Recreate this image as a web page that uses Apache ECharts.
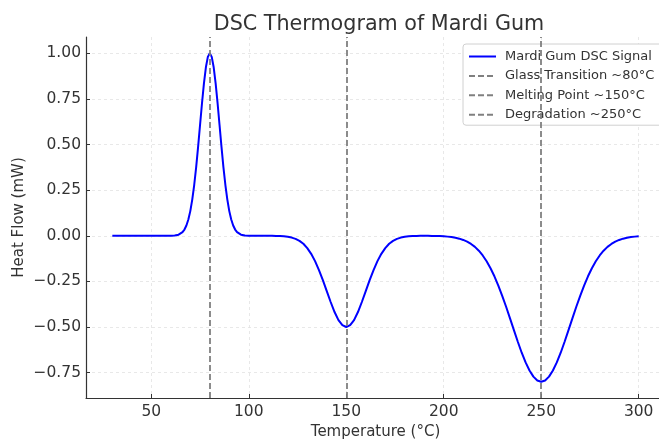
<!DOCTYPE html>
<html>
<head>
<meta charset="utf-8">
<script src="https://cdn.jsdelivr.net/npm/echarts@6/dist/echarts.min.js"></script>
<style>html,body{margin:0;padding:0;background:#fff}#c{width:659px;height:439px}</style>
</head>
<body>
<div id="c"></div>
<script>
const temperature = [30,32,34,36,38,40,42,44,46,48,50,52,54,56,58,60,61,62,63,64,65,66,67,68,69,70,71,72,73,74,75,76,77,78,79,80,81,82,83,84,85,86,87,88,89,90,91,92,93,94,95,96,97,98,99,100,102,104,106,108,110,112,114,116,118,120,122,124,126,128,130,132,134,136,138,140,142,144,146,148,150,152,154,156,158,160,162,164,166,168,170,172,174,176,178,180,182,184,186,188,190,192,194,196,198,200,202,204,206,208,210,212,214,216,218,220,222,224,226,228,230,232,234,236,238,240,242,244,246,248,250,252,254,256,258,260,262,264,266,268,270,272,274,276,278,280,282,284,286,288,290,292,294,296,298,300];
const heatFlow = [0,0,0,0,0,0,0,0,0,0,0,0,0,0,0,0.0003,0.0007,0.0015,0.0031,0.006,0.011,0.020,0.034,0.056,0.089,0.135,0.198,0.278,0.375,0.487,0.607,0.726,0.835,0.923,0.980,1.000,0.980,0.923,0.835,0.726,0.607,0.487,0.375,0.278,0.198,0.135,0.089,0.056,0.034,0.020,0.011,0.006,0.0031,0.0015,0.0007,0.0003,0,0,0,-0.0001,-0.0002,-0.0004,-0.0008,-0.0015,-0.003,-0.0056,-0.010,-0.017,-0.028,-0.044,-0.068,-0.099,-0.139,-0.188,-0.243,-0.303,-0.363,-0.418,-0.462,-0.490,-0.500,-0.490,-0.462,-0.418,-0.363,-0.303,-0.243,-0.188,-0.139,-0.099,-0.068,-0.044,-0.028,-0.017,-0.010,-0.0056,-0.003,-0.0015,-0.0009,-0.0006,-0.0005,-0.0006,-0.0007,-0.0012,-0.002,-0.0031,-0.0048,-0.0073,-0.011,-0.016,-0.023,-0.032,-0.045,-0.061,-0.082,-0.108,-0.140,-0.178,-0.222,-0.273,-0.329,-0.389,-0.453,-0.517,-0.581,-0.641,-0.694,-0.738,-0.772,-0.793,-0.800,-0.793,-0.772,-0.738,-0.694,-0.641,-0.581,-0.517,-0.453,-0.389,-0.329,-0.273,-0.222,-0.178,-0.140,-0.108,-0.082,-0.061,-0.045,-0.032,-0.023,-0.016,-0.011,-0.0073,-0.0048,-0.0031];
const transitionNames = ['Glass Transition ~80°C','Melting Point ~150°C','Degradation ~250°C'];
const transitionTemps = [80,150,250];
const xTicks = [50,100,150,200,250,300];
const yTicks = [-0.75,-0.5,-0.25,0,0.25,0.5,0.75,1.0];

const FONT = 'DejaVu Sans';
const chart = echarts.init(document.getElementById('c'), null, {renderer:'canvas'});
const gridLine = {show:true, lineStyle:{color:'#e3e3e3', type:[3,3], width:0.8}};
const series = [{
  name:'Mardi Gum DSC Signal', type:'line', showSymbol:false, symbol:'none',
  data: temperature.map((t,i)=>[t,heatFlow[i]]),
  lineStyle:{color:'#0000ff', width:2}, itemStyle:{color:'#0000ff'}, z:3, smooth:false
}];
transitionNames.forEach((n,i)=>{
  series.push({
    name:n, type:'line', data:[], symbol:'none',
    lineStyle:{color:'#808080', width:1.8, type:[6,3]}, itemStyle:{color:'#808080'},
    markLine:{silent:true, symbol:['none','none'], label:{show:false},
      lineStyle:{color:'#808080', width:1.8, type:[6,3]},
      data:[{xAxis:transitionTemps[i]}]}
  });
});
chart.setOption({
  animation:false,
  textStyle:{fontFamily:FONT},
  title:{text:'DSC Thermogram of Mardi Gum', left:374, textAlign:'center', top:9,
    textStyle:{fontFamily:FONT, fontSize:20.7, fontWeight:'normal', color:'#333'}},
  legend:{orient:'vertical', left:463, top:44, itemWidth:27, itemHeight:12, itemGap:6.4,
    padding:[6,8,4,5], backgroundColor:'#fff', borderColor:'#d0d0d0', borderWidth:1, borderRadius:3,
    itemStyle:{opacity:0},
    textStyle:{fontFamily:FONT, fontSize:13, color:'#333', padding:[0,0,0,4]},
    data:['Mardi Gum DSC Signal'].concat(transitionNames)},
  grid:{left:86, top:37, width:579, height:361, containLabel:false, outerBoundsMode:'none'},
  xAxis:{type:'value', min:16.5, max:313.5,
    name:'Temperature (°C)', nameLocation:'middle', nameGap:27, nameMoveOverlap:false,
    nameTextStyle:{fontFamily:FONT, fontSize:15, color:'#333'},
    axisLine:{show:true, onZero:false, lineStyle:{color:'#333', width:1.2}},
    axisTick:{show:true, inside:true, length:4, customValues:xTicks, lineStyle:{color:'#333'}},
    axisLabel:{customValues:xTicks, margin:6, fontFamily:FONT, fontSize:15.5, color:'#333'},
    splitLine:gridLine},
  yAxis:{type:'value', min:-0.889, max:1.089,
    name:'Heat Flow (mW)', nameLocation:'middle', nameGap:59, nameRotate:90, nameMoveOverlap:false,
    nameTextStyle:{fontFamily:FONT, fontSize:15, color:'#333'},
    axisLine:{show:true, onZero:false, lineStyle:{color:'#333', width:1.2}},
    axisTick:{show:true, inside:true, length:4, customValues:yTicks, lineStyle:{color:'#333'}},
    axisLabel:{customValues:yTicks, margin:5, fontFamily:FONT, fontSize:15.5, color:'#333',
      formatter:v=>(v<0?'\u2212':'')+Math.abs(v).toFixed(2)},
    splitLine:gridLine},
  series:series
});
</script>
</body>
</html>
